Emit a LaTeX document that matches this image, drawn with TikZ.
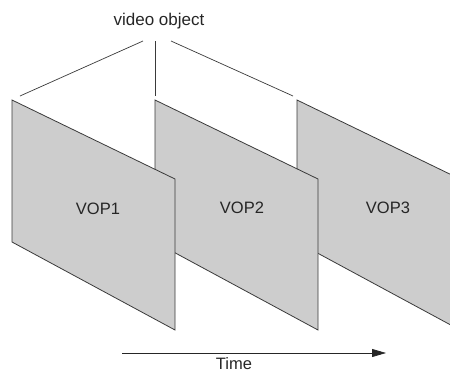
\documentclass[tikz,border=0pt]{standalone}
\usepackage{fontspec}
\setmainfont{Liberation Sans}
\usetikzlibrary{arrows.meta}
\definecolor{panelgray}{HTML}{CDCDCD}
\definecolor{edgegray}{HTML}{3A3A3A}
\tikzset{
  panel/.style={fill=panelgray, draw=edgegray, line width=0.8pt, line join=miter},
  link/.style={draw=edgegray, line width=0.7pt},
  lbl/.style={font=\fontsize{16.5}{19}\selectfont, inner sep=0pt, text=black!85},
  timearrow/.style={draw=black!85, line width=0.8pt, -{Triangle[length=14pt, width=8pt]}}
}
\begin{document}
\begin{tikzpicture}[x=1pt, y=-1pt]
  \useasboundingbox (0,0) rectangle (450,372);
  \clip (0,0) rectangle (450,372);

  % frame corners: top-left, top-right, bottom-right, bottom-left
  \foreach \i/\x in {1/12, 2/155, 3/297} {
    \coordinate (p\i tl) at (\x,100);
    \coordinate (p\i tr) at (\x+163,179);
    \coordinate (p\i br) at (\x+163,330);
    \coordinate (p\i bl) at (\x,242);
  }

  % frames, back to front
  \draw[panel] (p3tl) -- (p3tr) -- (p3br) -- (p3bl) -- cycle;
  \draw[panel] (p2tl) -- (p2tr) -- (p2br) -- (p2bl) -- cycle;
  \draw[panel] (p1tl) -- (p1tr) -- (p1br) -- (p1bl) -- cycle;

  \node[lbl] (vop1) at (98,209) {VOP1};
  \node[lbl] (vop2) at (242,208) {VOP2};
  \node[lbl] (vop3) at (388,208) {VOP3};

  % the video object and its links to the frames
  \node[lbl, font=\fontsize{17}{20}\selectfont] (vo) at (159,21) {video object};
  \coordinate (v1) at (143,41);
  \coordinate (v2) at (155,41);
  \coordinate (v3) at (171,41);
  \coordinate (e1) at (20,96);
  \coordinate (e2) at (155,96);
  \coordinate (e3) at (293,96);
  \draw[link] (v1) -- (e1);
  \draw[link] (v2) -- (e2);
  \draw[link] (v3) -- (e3);

  % time axis
  \coordinate (t0) at (122,353);
  \coordinate (t1) at (386,353);
  \draw[timearrow] (t0) -- (t1);
  \node[lbl] (time) at (234,364) {Time};
\end{tikzpicture}
\end{document}
